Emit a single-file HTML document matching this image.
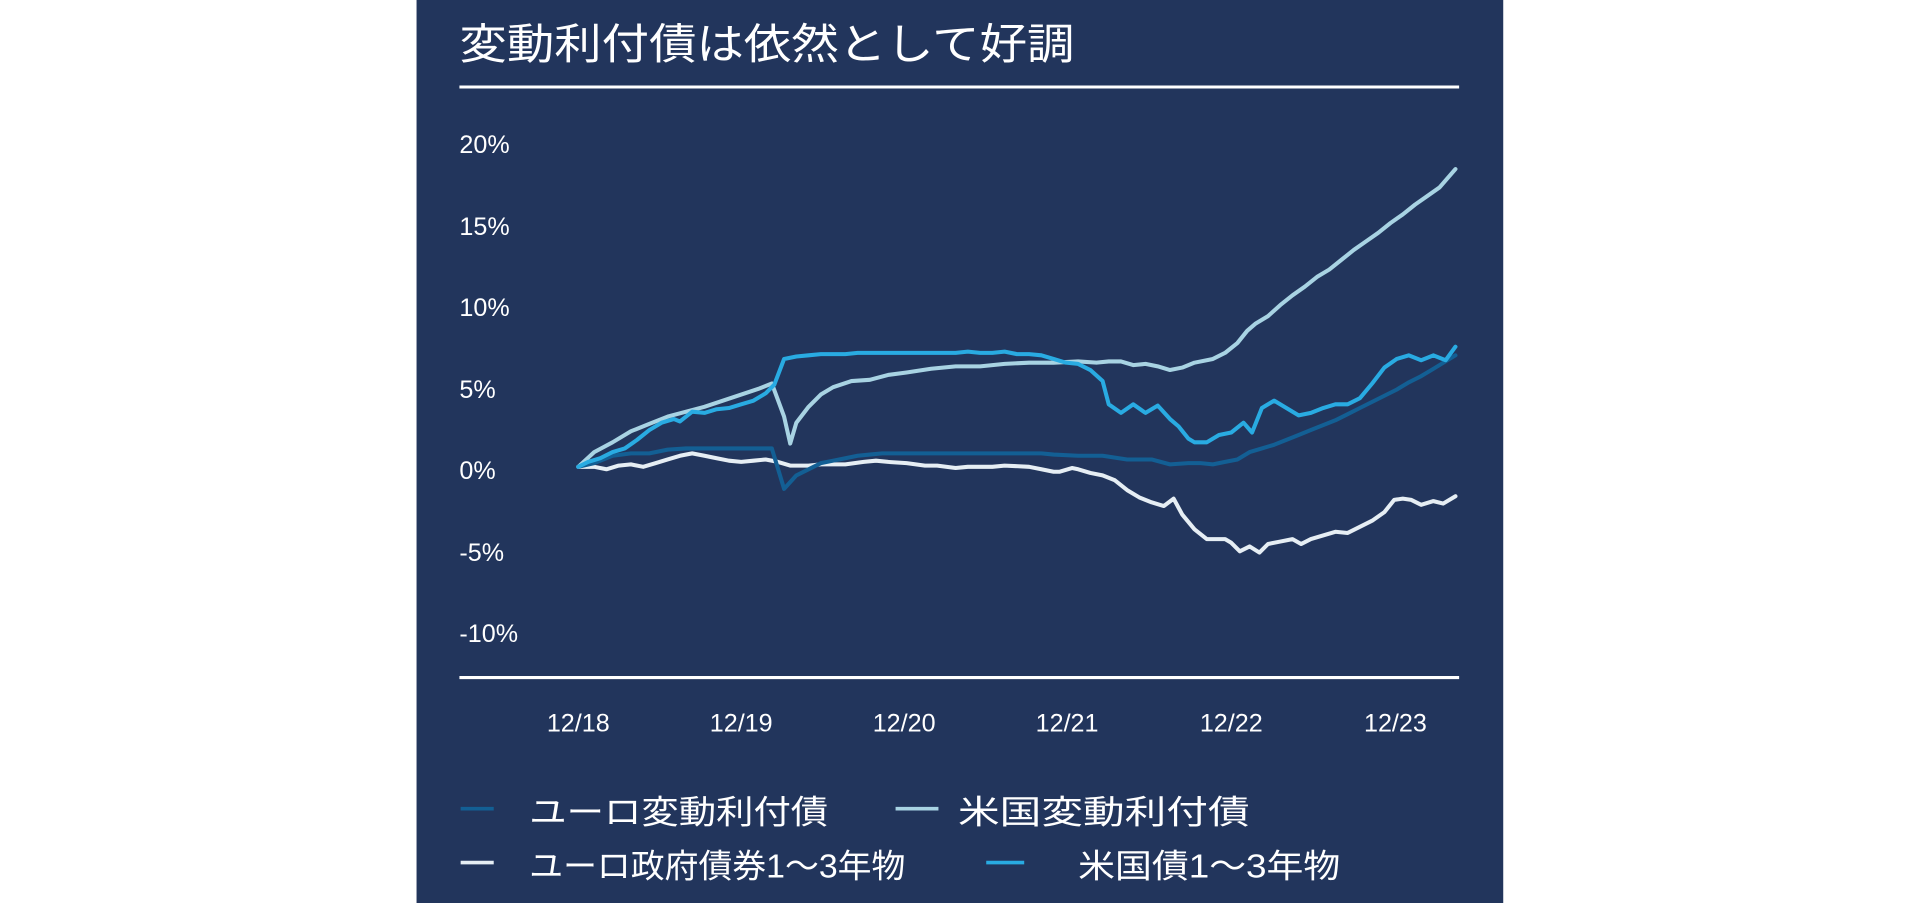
<!DOCTYPE html>
<html><head><meta charset="utf-8"><style>
html,body{margin:0;padding:0;background:#fff;width:1921px;height:903px;overflow:hidden}
svg{display:block}
text{font-family:"Liberation Sans","Noto Sans CJK JP",sans-serif;fill:#fff}
</style></head><body>
<svg width="1921" height="903" viewBox="0 0 1568 737" preserveAspectRatio="none">
<rect x="0" y="0" width="1568" height="737" fill="#fff"/>
<rect x="340" y="0" width="887" height="737" fill="#22355c"/>
<text x="375" y="48" font-size="35" textLength="502" lengthAdjust="spacingAndGlyphs">変動利付債は依然として好調</text>
<line x1="375" y1="71" x2="1191" y2="71" stroke="#fff" stroke-width="2.5"/>
<line x1="375" y1="553" x2="1191" y2="553" stroke="#fff" stroke-width="2.5"/>
<g font-size="20.5">
<text x="375" y="125">20%</text>
<text x="375" y="192">15%</text>
<text x="375" y="258">10%</text>
<text x="375" y="325">5%</text>
<text x="375" y="391">0%</text>
<text x="375" y="458">-5%</text>
<text x="375" y="524">-10%</text>
</g>
<g font-size="20.5" text-anchor="middle">
<text x="472" y="597">12/18</text>
<text x="605" y="597">12/19</text>
<text x="738" y="597">12/20</text>
<text x="871" y="597">12/21</text>
<text x="1005" y="597">12/22</text>
<text x="1139" y="597">12/23</text>
</g>
<g fill="none" stroke-width="3.3" stroke-linejoin="round" stroke-linecap="round">
<polyline stroke="#e6eef4" points="472,381 485,381 495,383 505,380 515,379 525,381 535,378 545,375 555,372 565,370 575,372 585,374 595,376 605,377 615,376 625,375 635,377 645,380 660,380 670,379 690,379 705,377 715,376 725,377 740,378 755,380 765,380 780,382 790,381 800,381 810,381 820,380 840,381 850,383 860,385 865,385 875,382 880,383 890,386 900,388 910,392 920,400 930,406 940,410 950,413 958,407 965,420 975,432 985,440 1000,440 1005,443 1012,450 1020,446 1028,451 1035,444 1045,442 1055,440 1062,444 1070,440 1080,437 1090,434 1100,435 1110,430 1120,425 1130,418 1138,408 1145,407 1152,408 1160,412 1170,409 1178,411 1188,405"/>
<polyline stroke="#a8d3e3" points="472,381 485,369 500,361 515,352 530,346 545,340 560,336 575,332 590,327 605,322 620,317 630,313 640,340 645,362 650,345 660,332 670,322 680,316 695,311 710,310 725,306 740,304 760,301 780,299 800,299 820,297 840,296 860,296 880,295 895,296 905,295 915,295 925,298 935,297 945,299 955,302 965,300 975,296 990,293 1000,288 1010,280 1018,270 1025,264 1035,258 1045,249 1055,241 1065,234 1075,226 1085,220 1095,212 1105,204 1115,197 1125,190 1135,182 1145,175 1155,167 1165,160 1175,153 1188,138"/>
<polyline stroke="#135f94" points="472,381 485,378 500,372 515,370 530,370 545,367 560,366 575,366 590,366 605,366 615,366 630,366 640,399 650,388 660,383 670,378 680,376 690,374 700,372 710,371 720,370 740,370 800,370 850,370 860,371 880,372 900,372 920,375 940,375 955,379 970,378 980,378 990,379 1000,377 1010,375 1020,369 1030,366 1040,363 1050,359 1060,355 1070,351 1080,347 1090,343 1100,338 1110,333 1120,328 1130,323 1140,318 1150,312 1160,307 1170,301 1188,290"/>
<polyline stroke="#29abe2" points="472,381 480,377 490,374 500,369 510,366 520,359 530,351 540,345 550,342 555,344 565,336 575,337 585,334 595,333 605,330 615,327 625,321 632,314 640,293 650,291 660,290 670,289 690,289 700,288 720,288 740,288 760,288 780,288 790,287 800,288 810,288 820,287 830,289 840,289 850,290 860,293 870,296 880,297 890,302 900,311 905,330 915,337 925,330 935,337 945,331 955,342 962,348 970,358 975,361 985,361 995,355 1005,353 1015,345 1022,353 1030,333 1040,327 1050,333 1060,339 1070,337 1080,333 1090,330 1100,330 1110,325 1120,313 1130,300 1140,293 1150,290 1160,294 1170,290 1180,294 1188,283"/>
</g>
<g stroke-width="3">
<line x1="376" y1="660" x2="403" y2="660" stroke="#135f94"/>
<line x1="731" y1="660" x2="766" y2="660" stroke="#a8d3e3"/>
<line x1="376" y1="704" x2="403" y2="704" stroke="#e6eef4"/>
<line x1="805" y1="704" x2="836" y2="704" stroke="#29abe2"/>
</g>
<g font-size="27">
<text x="432" y="672" textLength="244" lengthAdjust="spacingAndGlyphs">ユーロ変動利付債</text>
<text x="782" y="672" textLength="238" lengthAdjust="spacingAndGlyphs">米国変動利付債</text>
<text x="432" y="716" textLength="307" lengthAdjust="spacingAndGlyphs">ユーロ政府債券1～3年物</text>
<text x="880" y="716" textLength="214" lengthAdjust="spacingAndGlyphs">米国債1～3年物</text>
</g>
</svg>
</body></html>
